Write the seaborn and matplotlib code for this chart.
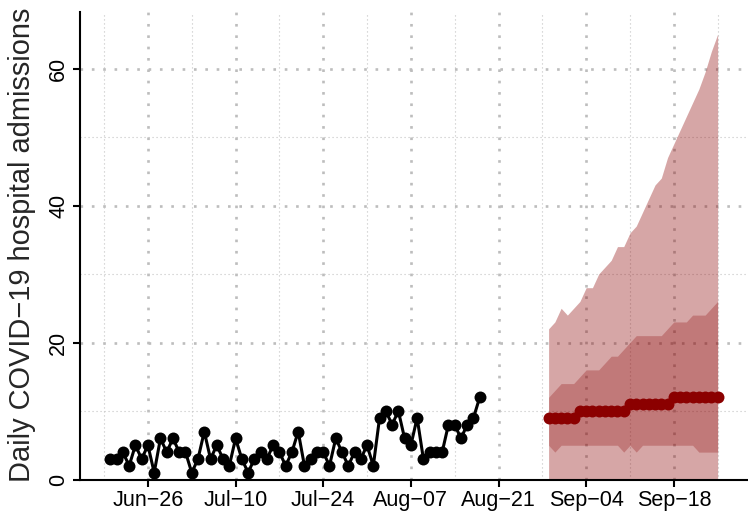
import matplotlib
matplotlib.use("Agg")
import matplotlib.pyplot as plt
import matplotlib.dates as mdates
from matplotlib.ticker import FixedLocator, FuncFormatter
import seaborn as sns
import pandas as pd

# observed daily admissions, one value per day from obs_start
obs_start = "2021-06-20"
obs = [3, 3, 4, 2, 5, 3, 5, 1, 6, 4,
       6, 4, 4, 1, 3, 7, 3, 5, 3, 2,
       6, 3, 1, 3, 4, 3, 5, 4, 2, 4,
       7, 2, 3, 4, 4, 2, 6, 4, 2, 4,
       3, 5, 2, 9, 10, 8, 10, 6, 5, 9,
       3, 4, 4, 4, 8, 8, 6, 8, 9, 12]

# forecast, one value per day from fc_start
fc_start = "2021-08-29"
median = [9, 9, 9, 9, 9, 10, 10, 10, 10, 10, 10, 10, 10, 11,
          11, 11, 11, 11, 11, 11, 12, 12, 12, 12, 12, 12, 12, 12]
inner_lo = [5, 4, 5, 5, 5, 5, 5, 5, 5, 5, 5, 5, 4, 5,
            4, 5, 5, 5, 5, 5, 5, 5, 5, 5, 4, 4, 4, 4]
inner_hi = [12, 13, 14, 14, 14, 15, 16, 16, 16, 17, 18, 18, 19, 20,
            21, 21, 21, 21, 21, 22, 23, 23, 23, 24, 24, 24, 25, 26]
outer_lo = [0, 0, 0, 0, 0, 0, 0, 0, 0, 0, 0, 0, 0, 0,
            0, 0, 0, 0, 0, 0, 0, 0, 0, 0, 0, 0, 0, 0]
outer_hi = [22, 23, 25, 24, 25, 26, 28, 28, 30, 31, 32, 34, 34, 36,
            37, 39, 41, 43, 44, 47, 49, 51, 53, 55, 57, 59.5, 62.5, 65]

major_ticks = ["2021-06-12", "2021-06-26", "2021-07-10", "2021-07-24", "2021-08-07",
               "2021-08-21", "2021-09-04", "2021-09-18", "2021-10-02"]
ylabel = "Daily COVID\u221219 hospital admissions"

obs_dates = pd.date_range(obs_start, periods=len(obs), freq="D")
fc_dates = pd.date_range(fc_start, periods=len(median), freq="D")

sns.set_style("ticks")
plt.rcParams["font.family"] = ["Liberation Sans", "DejaVu Sans"]

fig = plt.figure(figsize=(7.48, 5.12), dpi=100)
ax = fig.add_axes([80 / 748, 32.5 / 512, 668 / 748, 467.5 / 512])

red = "#8b0000"
ax.fill_between(fc_dates, outer_lo, outer_hi, color=red, alpha=0.35, lw=0)
ax.fill_between(fc_dates, inner_lo, inner_hi, color=red, alpha=0.27, lw=0)

sns.lineplot(x=obs_dates, y=obs, ax=ax, color="black", linewidth=2.2,
             marker="o", markersize=8.6, markeredgecolor="black", markeredgewidth=0)
sns.lineplot(x=fc_dates, y=median, ax=ax, color=red, linewidth=2.2,
             marker="o", markersize=8.6, markeredgecolor=red, markeredgewidth=0)

# ggplot style 5% expansion on x, 0 at bottom on y
x0 = mdates.date2num(obs_dates[0])
x1 = mdates.date2num(fc_dates[-1])
pad = (x1 - x0) * 0.05
ax.set_xlim(x0 - pad, x1 + pad)
ax.set_ylim(0, max(outer_hi) * 1.05)

maj = [mdates.date2num(pd.Timestamp(d)) for d in major_ticks]
ax.xaxis.set_major_locator(FixedLocator(maj))
ax.xaxis.set_minor_locator(FixedLocator([m + 7 for m in maj]))
ax.xaxis.set_major_formatter(FuncFormatter(
    lambda v, p: mdates.num2date(v).strftime("%b-%d").replace("-", "\u2212")))
ax.yaxis.set_major_locator(FixedLocator([0, 20, 40, 60]))
ax.yaxis.set_minor_locator(FixedLocator([10, 30, 50]))

ax.set_axisbelow(True)
ax.grid(which="major", color="#bdbdbd", lw=1.9, linestyle=(0, (1, 3.3)))
ax.grid(which="minor", color="#c4c4c4", lw=0.8, linestyle=(0, (1, 2.6)))

for side in ["top", "right"]:
    ax.spines[side].set_visible(False)
for side in ["left", "bottom"]:
    ax.spines[side].set_color("black")
    ax.spines[side].set_linewidth(1.5)

ax.tick_params(which="major", length=4.8, width=1.5, color="black",
               labelsize=15.5, labelcolor="black", pad=3)
ax.tick_params(which="minor", length=0)
ax.tick_params(axis="y", labelrotation=90)
for lab in ax.get_yticklabels():
    lab.set_va("center")

ax.set_xlabel("")
ax.set_ylabel("")
fig.text(22 / 748, 0.522, ylabel, rotation=90, ha="center", va="center", fontsize=20.9)

fig.savefig("out.png", dpi=100)
